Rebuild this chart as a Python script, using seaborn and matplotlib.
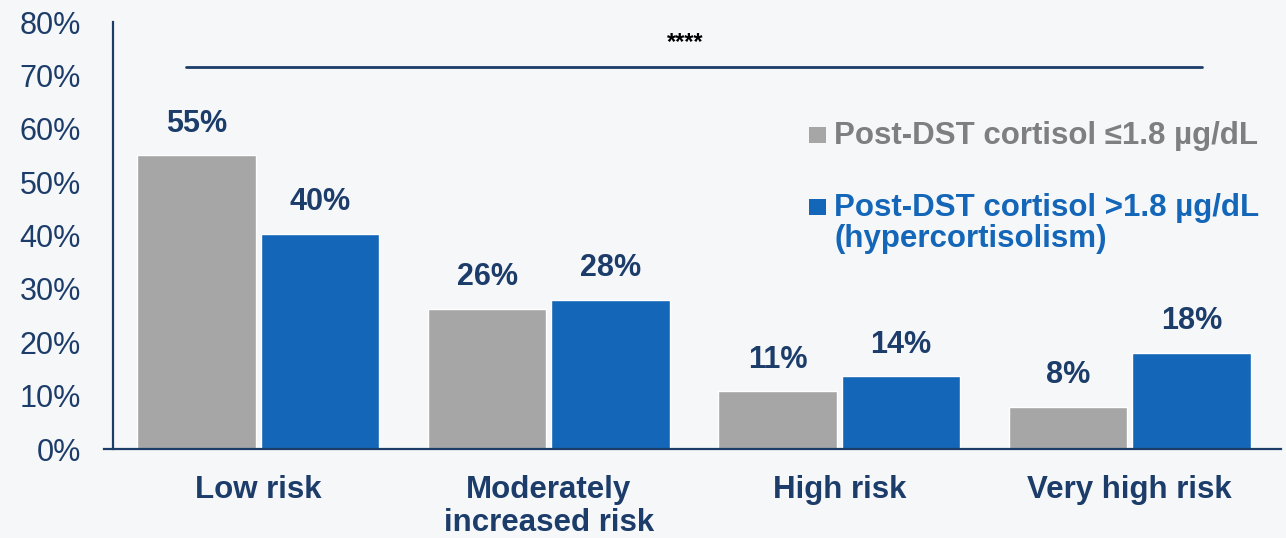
import pandas as pd
import matplotlib
matplotlib.use("Agg")
import matplotlib.pyplot as plt
import seaborn as sns
from matplotlib.patches import Rectangle

# Data (percent of patients per risk category)
categories = ["Low risk", "Moderately\nincreased risk", "High risk", "Very high risk"]
low_cortisol = [55.0, 26.3, 10.8, 7.9]
high_cortisol = [40.3, 28.0, 13.6, 18.0]
series_names = ["Post-DST cortisol \u22641.8 \u00b5g/dL",
                "Post-DST cortisol >1.8 \u00b5g/dL\n(hypercortisolism)"]
y_ticks = [0, 10, 20, 30, 40, 50, 60, 70, 80]
sig_label = "****"
sig_level = 71.6

df = pd.DataFrame({
    "category": categories * 2,
    "group": [series_names[0]] * 4 + [series_names[1]] * 4,
    "value": low_cortisol + high_cortisol,
})

navy = "#1C3C6A"
gray = "#A6A6A6"
blue = "#1466B8"
W, H = 1286, 538

sns.set_style("white")
plt.rcParams["font.family"] = ["Liberation Sans", "DejaVu Sans"]

fig = plt.figure(figsize=(W / 100, H / 100), dpi=100, facecolor="#F6F7F9")
ax = fig.add_axes([0.0879, 0.1654, 0.908, 0.7937])
ax.set_facecolor("none")

sns.barplot(data=df, x="category", y="value", hue="group", order=categories,
            hue_order=series_names, palette=[gray, blue], width=0.85, gap=0.04,
            saturation=1, errorbar=None, legend=False, ax=ax)

for cont in ax.containers:
    ax.bar_label(cont, labels=[f"{round(b.get_height()):d}%" for b in cont],
                 padding=12, fontsize=22, fontweight="bold", color=navy)

ax.set_ylim(0, 80)
ax.set_xlim(-0.5, 3.52)
ax.set_yticks(y_ticks)
ax.set_yticklabels([f"{t}%" for t in y_ticks], fontsize=22, color=navy)
ax.set_xticks(range(len(categories)))
ax.set_xticklabels(categories, fontsize=22.5, fontweight="bold", color=navy,
                   linespacing=1.12, va="top")
ax.tick_params(axis="y", direction="out", length=9, width=1.5, color=navy, pad=14)
ax.tick_params(axis="x", length=0, pad=19)
ax.set_xlabel("")
ax.set_ylabel("")

for side in ["top", "right"]:
    ax.spines[side].set_visible(False)
for side in ["left", "bottom"]:
    ax.spines[side].set_color(navy)
    ax.spines[side].set_linewidth(1.6)
ax.spines["bottom"].set_bounds(-0.53, 3.52)

# significance line
ax.plot([-0.25, 3.25], [sig_level, sig_level], color=navy, lw=2, clip_on=False)
ax.text(1.47, sig_level + 4.6, sig_label, ha="center", va="center",
        fontsize=17, fontweight="bold", color="black")

# legend: squares aligned with the first line of each label
legend_items = [(gray, "#7F7F7F", 127, 144), (blue, blue, 199, 216)]
for (fc, tc, sq_top, base), name in zip(legend_items, series_names):
    fig.patches.append(Rectangle((809 / W, 1 - (sq_top + 16) / H), 17 / W, 16 / H,
                                 transform=fig.transFigure, facecolor=fc,
                                 edgecolor="none"))
    for i, line in enumerate(name.split("\n")):
        fig.text(834 / W, 1 - (base + 31 * i) / H, line, ha="left", va="baseline",
                 fontsize=22.5, fontweight="bold", color=tc)

fig.savefig("out.png", dpi=100, facecolor=fig.get_facecolor())
